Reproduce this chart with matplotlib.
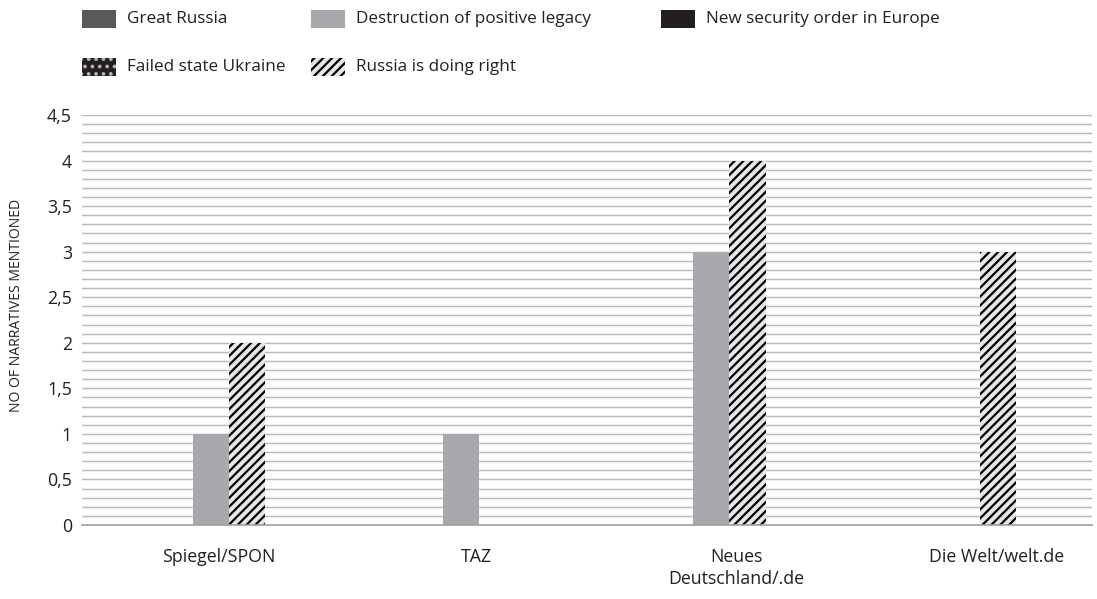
import matplotlib
matplotlib.use("Agg")
import matplotlib.pyplot as plt
from matplotlib.patches import Rectangle
import numpy as np

# ---------------- data ----------------
categories = ["Spiegel/SPON", "TAZ", "Neues\nDeutschland/.de", "Die Welt/welt.de"]
series_names = ["Great Russia", "Destruction of positive legacy",
                "New security order in Europe", "Failed state Ukraine",
                "Russia is doing right"]
great_russia = [0, 0, 0, 0]
destruction = [1, 1, 3, 0]
new_security = [0, 0, 0, 0]
failed_state = [0, 0, 0, 0]
doing_right = [2, 0, 4, 3]
y_ticks = [0, 0.5, 1, 1.5, 2, 2.5, 3, 3.5, 4, 4.5]
y_tick_labels = ["0", "0,5", "1", "1,5", "2", "2,5", "3", "3,5", "4", "4,5"]
y_label = "NO OF NARRATIVES MENTIONED"

# ---------------- style ----------------
W, H, DPI = 1097, 599, 133
FONT = ["Open Sans", "DejaVu Sans"]
plt.rcParams["font.family"] = FONT
plt.rcParams["hatch.linewidth"] = 1.2

c_great = "#58595b"
c_destr = "#a7a9ac"
c_newsec = "#231f20"
c_failed = "#231f20"
c_right_bg = "#e6e7e8"
text_col = "#231f20"
HATCH_R = "/////"
HATCH_F = "..."

fig = plt.figure(figsize=(W / DPI, H / DPI), dpi=DPI)
ax = fig.add_axes([82 / W, 1 - 525 / H, (1092 - 82) / W, (525 - 115) / H])

x = np.arange(len(categories))
w = 0.144
# slot order within each cluster
series = [
    (great_russia, dict(color=c_great), -2),
    (new_security, dict(color=c_newsec), -1),
    (destruction, dict(color=c_destr), 0),
    (doing_right, dict(facecolor=c_right_bg, edgecolor="black", hatch=HATCH_R, linewidth=0), 1),
    (failed_state, dict(facecolor=c_failed, edgecolor="#b5b5b5", hatch=HATCH_F, linewidth=0), 2),
]
for vals, kw, k in series:
    ax.bar(x + k * w, vals, width=w, zorder=3, **kw)

# grid every 0.1
for gy in np.arange(1, 46) / 10:
    ax.axhline(gy, color="#b9babc", lw=0.8, zorder=1)

ax.set_ylim(0, 4.5)
ax.set_xlim(-0.516, 3.521)
ax.set_yticks(y_ticks, y_tick_labels)
label_offset = [0.03, 0.06, 0.10, 0.14]
ax.set_xticks(x + np.array(label_offset), categories)
ax.tick_params(axis="both", length=0, colors=text_col)
ax.tick_params(axis="y", pad=5.5, labelsize=9.6)
ax.tick_params(axis="x", pad=12.5, labelsize=9.6)
for t in ax.get_xticklabels():
    t.set_linespacing(1.3)
for s in ["top", "right", "left"]:
    ax.spines[s].set_visible(False)
ax.spines["bottom"].set_color("#a0a0a0")
ax.spines["bottom"].set_linewidth(0.9)
ax.spines["bottom"].set_zorder(4)

fig.text(17 / W, 1 - 305 / H, y_label, rotation=90, ha="center", va="center",
         fontsize=7.6, color=text_col)

# ---------------- legend (manual) ----------------
legend_styles = [
    dict(facecolor=c_great, edgecolor=c_great, linewidth=0),
    dict(facecolor=c_destr, edgecolor=c_destr, linewidth=0),
    dict(facecolor=c_newsec, edgecolor=c_newsec, linewidth=0),
    dict(facecolor=c_failed, edgecolor="#b5b5b5", hatch=HATCH_F, linewidth=0),
    dict(facecolor=c_right_bg, edgecolor="black", hatch=HATCH_R, linewidth=0),
]
legend_pos = [(82, 19), (311, 19), (661, 19), (82, 67), (311, 67)]
pw, ph = 34, 18
for name, st, (px, py) in zip(series_names, legend_styles, legend_pos):
    r = Rectangle(((px) / W, 1 - (py + ph / 2) / H), pw / W, ph / H,
                  transform=fig.transFigure, **st)
    fig.patches.append(r)
    fig.text((px + pw + 11) / W, 1 - py / H, name, ha="left", va="center",
             fontsize=9.3, color=text_col)

fig.savefig("out.png", dpi=DPI, facecolor="white")
